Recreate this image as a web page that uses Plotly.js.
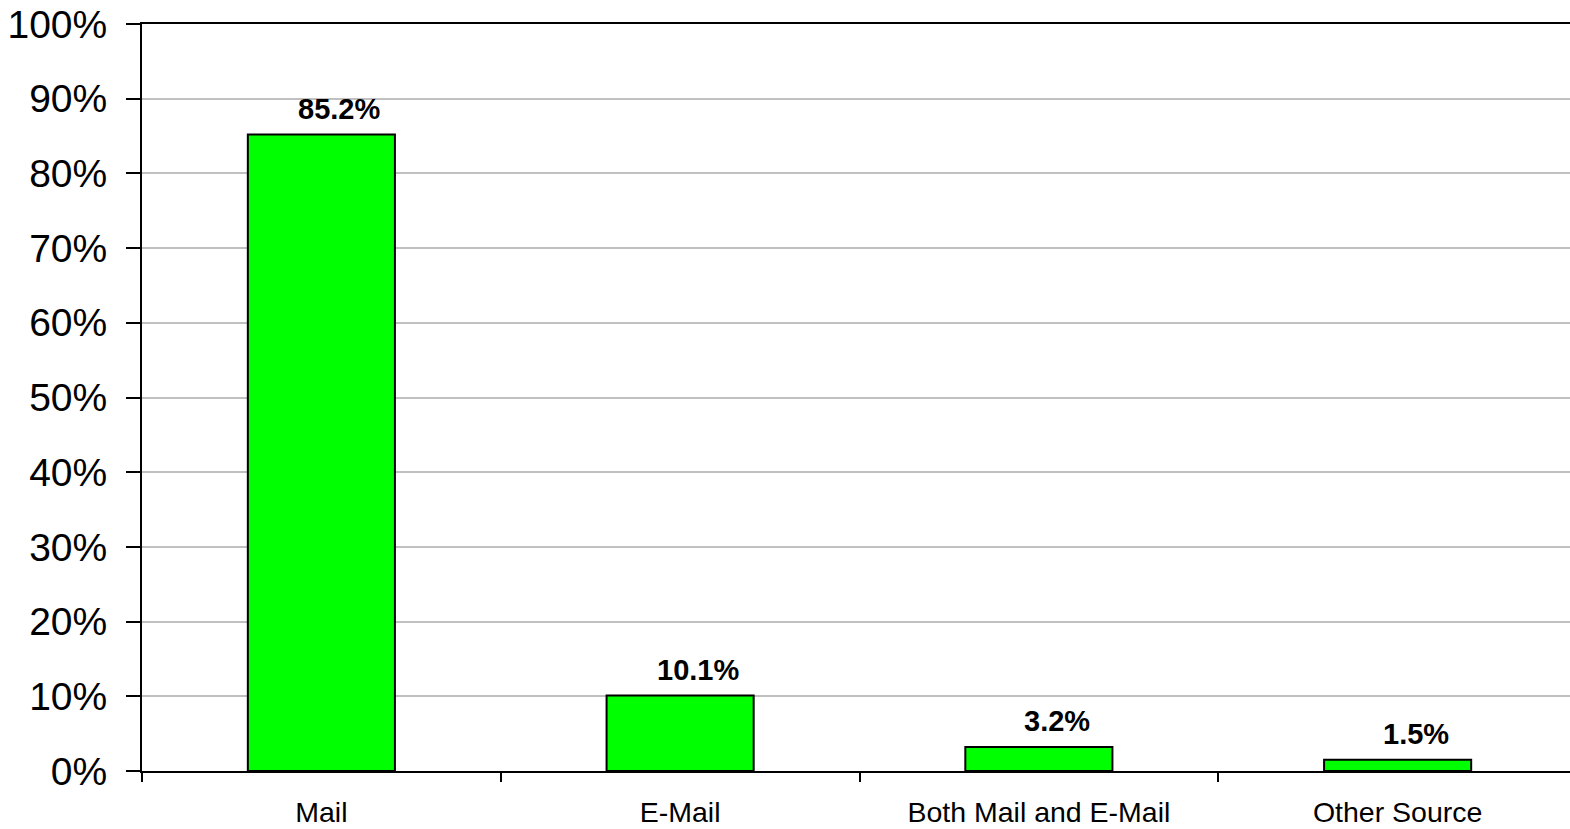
<!DOCTYPE html>
<html>
<head>
<meta charset="utf-8">
<script src="https://cdn.plot.ly/plotly-3.0.1.min.js"></script>
<style>
  html, body { margin: 0; padding: 0; overflow: hidden; background: #fff; }
  #chart { width: 1580px; height: 829px; }
</style>
</head>
<body>
<div id="chart"></div>
<script>
// Share of responses by source (percent)
const categories = ["Mail", "E-Mail", "Both Mail and E-Mail", "Other Source"];
const shares = [85.2, 10.1, 3.2, 1.5];
const shareLabels = ["85.2%", "10.1%", "3.2%", "1.5%"];
const yTickValues = [0, 10, 20, 30, 40, 50, 60, 70, 80, 90, 100];

const FONT = "Liberation Sans, Arial, sans-serif";

const trace = {
  type: "bar",
  x: categories,
  y: shares,
  marker: { color: "#00ff00", line: { color: "#000000", width: 2 } },
  hoverinfo: "x+y"
};

// Value labels sit above each bar, nudged slightly right of centre
const annotations = categories.map((c, i) => ({
  x: c,
  y: shares[i],
  text: "<b>" + shareLabels[i] + "</b>",
  showarrow: false,
  yanchor: "bottom",
  yshift: 8,
  xshift: 18,
  font: { family: FONT, size: 29, color: "#000" }
}));

const layout = {
  width: 1580,
  height: 829,
  margin: { l: 142, r: 3, t: 24, b: 58 },
  paper_bgcolor: "#ffffff",
  plot_bgcolor: "#ffffff",
  showlegend: false,
  bargap: 0.59,
  font: { family: FONT, color: "#000" },
  xaxis: {
    type: "category",
    range: [-0.5, 3.5],
    showline: true,
    linecolor: "#000",
    linewidth: 2,
    mirror: true,
    ticks: "outside",
    tickson: "boundaries",
    ticklen: 9,
    tickwidth: 2,
    tickcolor: "#000",
    showgrid: false,
    tickfont: { family: FONT, size: 28.5, color: "#000" },
    ticklabelstandoff: 15
  },
  yaxis: {
    range: [0, 100],
    tickvals: yTickValues,
    ticktext: yTickValues.map(v => v + "%"),
    showline: true,
    linecolor: "#000",
    linewidth: 2,
    mirror: true,
    ticks: "outside",
    ticklen: 14,
    tickwidth: 2,
    tickcolor: "#000",
    showgrid: true,
    gridcolor: "#c0c0c0",
    gridwidth: 2,
    zeroline: false,
    tickfont: { family: FONT, size: 39, color: "#000" },
    ticklabelstandoff: 11
  },
  annotations: annotations
};

Plotly.newPlot("chart", [trace], layout, { displayModeBar: false, staticPlot: true });
</script>
</body>
</html>
